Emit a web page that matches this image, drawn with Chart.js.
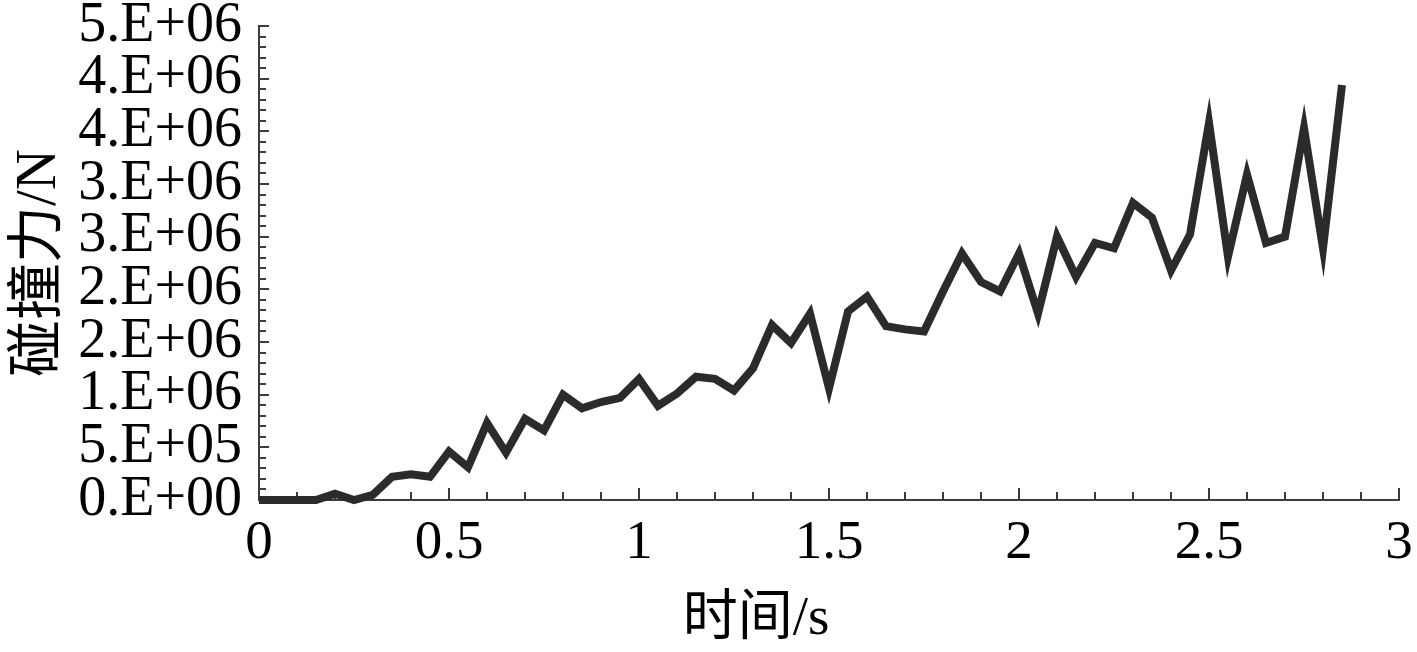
<!DOCTYPE html>
<html lang="zh">
<head>
  <meta charset="UTF-8">
  <title>碰撞力随时间变化</title>
  <script src="https://cdn.jsdelivr.net/npm/chart.js"></script>
  <style>
    html, body { margin: 0; padding: 0; background: #fff; }
    #wrap { width: 1417px; height: 652px; }
  </style>
</head>
<body>
  <div id="wrap"><canvas id="forceChart" width="1417" height="652"></canvas></div>
  <script>
    // time points (s)
    const times = [0, 0.05, 0.1, 0.15, 0.2, 0.25, 0.3, 0.35, 0.4, 0.45,
                   0.5, 0.55, 0.6, 0.65, 0.7, 0.75, 0.8, 0.85, 0.9, 0.95,
                   1.0, 1.05, 1.1, 1.15, 1.2, 1.25, 1.3, 1.35, 1.4, 1.45,
                   1.5, 1.55, 1.6, 1.65, 1.7, 1.75, 1.8, 1.85, 1.9, 1.95,
                   2.0, 2.05, 2.1, 2.15, 2.2, 2.25, 2.3, 2.35, 2.4, 2.45,
                   2.5, 2.55, 2.6, 2.65, 2.7, 2.75, 2.8, 2.85];
    // collision force (N)
    const forces = [0, 0, 0, 0, 60000, 0, 50000, 220000, 245000, 220000,
                    460000, 310000, 730000, 450000, 770000, 660000, 1000000, 870000, 930000, 970000,
                    1150000, 895000, 1010000, 1170000, 1150000, 1040000, 1250000, 1660000, 1490000, 1770000,
                    1060000, 1790000, 1930000, 1650000, 1620000, 1600000, 1980000, 2340000, 2070000, 1980000,
                    2340000, 1770000, 2500000, 2120000, 2440000, 2390000, 2820000, 2680000, 2180000, 2520000,
                    3580000, 2310000, 3090000, 2440000, 2500000, 3530000, 2390000, 3940000];
    // tick labels as printed on the original
    const yTickLabels = ['0.E+00', '5.E+05', '1.E+06', '2.E+06', '2.E+06',
                         '3.E+06', '3.E+06', '4.E+06', '4.E+06', '5.E+06'];
    const xTickLabels = ['0', '0.5', '1', '1.5', '2', '2.5', '3'];

    const serif = "'Liberation Serif', 'Noto Sans CJK SC', serif";
    const axisColor = '#3c3c3c';

    // small inward ticks on both axes (0.1 s and 1e5 N apart)
    const innerTicks = {
      id: 'innerTicks',
      beforeDatasetsDraw(chart) {
        const { ctx, scales: { x, y } } = chart;
        ctx.save();
        ctx.strokeStyle = axisColor;
        ctx.lineWidth = 2;
        ctx.beginPath();
        for (let i = 0; i <= 30; i++) {
          const px = Math.round(x.getPixelForValue(i / 10));
          const len = i % 5 === 0 ? 12 : 8;
          ctx.moveTo(px, y.bottom);
          ctx.lineTo(px, y.bottom - len);
        }
        for (let j = 0; j <= 45; j++) {
          const py = Math.round(y.getPixelForValue(j * 1e5));
          const len = j % 5 === 0 ? 10 : 7;
          ctx.moveTo(x.left, py);
          ctx.lineTo(x.left + len, py);
        }
        ctx.stroke();
        ctx.restore();
      },
      afterDraw(chart) {
        const { ctx } = chart;
        ctx.save();
        ctx.fillStyle = '#000';
        ctx.font = "55px " + serif;
        ctx.textAlign = 'center';
        ctx.textBaseline = 'middle';
        ctx.fillText('时间/s', 756, 620);
        ctx.restore();
      }
    };

    const ctx = document.getElementById('forceChart').getContext('2d');
    new Chart(ctx, {
      type: 'line',
      data: {
        datasets: [{
          label: '碰撞力',
          data: times.map((t, i) => ({ x: t, y: forces[i] })),
          borderColor: '#2b2b2b',
          borderWidth: 8,
          borderJoinStyle: 'miter',
          pointRadius: 0,
          tension: 0,
          fill: false,
          clip: 10
        }]
      },
      options: {
        responsive: false,
        animation: false,
        layout: { padding: { top: 26, right: 18, left: 0, bottom: 0 } },
        plugins: { legend: { display: false }, tooltip: { enabled: false } },
        scales: {
          x: {
            type: 'linear',
            min: 0,
            max: 3,
            grid: { display: false, drawTicks: false },
            border: { display: true, color: axisColor, width: 2 },
            ticks: {
              stepSize: 0.5,
              padding: 11,
              autoSkip: false,
              color: '#000',
              font: { family: serif, size: 55 },
              maxRotation: 0,
              callback: (v, i) => xTickLabels[i]
            },
            afterFit(s) { s.height = 152; s.paddingLeft = 0; s.paddingRight = 0; }
          },
          y: {
            min: 0,
            max: 4500000,
            grid: { display: false, drawTicks: false },
            border: { display: true, color: axisColor, width: 2 },
            ticks: {
              stepSize: 500000,
              count: 10,
              maxTicksLimit: 20,
              autoSkip: false,
              padding: 17,
              color: '#000',
              font: { family: serif, size: 56, lineHeight: 0.9 },
              callback: (v, i) => yTickLabels[i]
            },
            title: {
              display: true,
              text: '碰撞力/N',
              color: '#000',
              font: { family: serif, size: 57, lineHeight: 1 },
              padding: { top: 12, bottom: 0 }
            },
            afterFit(s) { s.width = 259; s.paddingTop = 0; s.paddingBottom = 0; }
          }
        }
      },
      plugins: [innerTicks]
    });
  </script>
</body>
</html>
